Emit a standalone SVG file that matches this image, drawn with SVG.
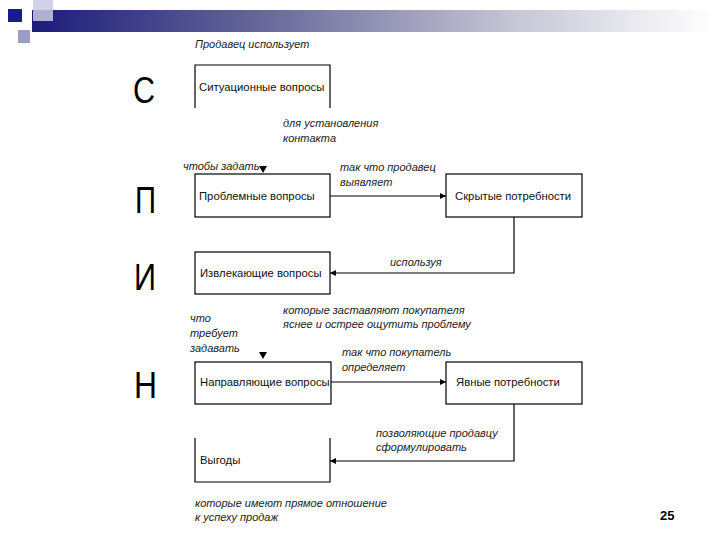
<svg xmlns="http://www.w3.org/2000/svg" width="720" height="540" viewBox="0 0 720 540">
<defs>
<linearGradient id="bar" x1="0" y1="0" x2="1" y2="0">
<stop offset="0" stop-color="#1c1c7a"/>
<stop offset="0.35" stop-color="#6a6a9c"/>
<stop offset="0.7" stop-color="#c4c4d4"/>
<stop offset="1" stop-color="#ffffff"/>
</linearGradient>
<marker id="ah" viewBox="0 0 10 10" refX="10" refY="5" markerWidth="9" markerHeight="6" markerUnits="userSpaceOnUse" orient="auto">
<path d="M0,0 L10,5 L0,10 z" fill="#000"/>
</marker>
</defs>
<style>
.box{fill:#fff;stroke:#000;stroke-width:1.2}
.edge{fill:none;stroke:#000;stroke-width:1.2}
.t{font-family:"Liberation Sans",Arial,sans-serif;font-size:11.3px;fill:#111}
.lab{font-family:"Liberation Sans",Arial,sans-serif;font-size:11px;font-style:italic;fill:#222}
.big{font-family:"Liberation Sans",Arial,sans-serif;font-size:37px;fill:#000}
</style>
<rect width="720" height="540" fill="#fff"/>
<g id="decor">
<rect x="32" y="10" width="680" height="22" fill="url(#bar)"/>
<rect x="33" y="0" width="20" height="21" fill="#c9c9e4" opacity="0.85"/>
<rect x="8" y="9" width="14" height="13" fill="#1a1a8e"/>
<rect x="18" y="30" width="12" height="13" fill="#9c9cc8"/>
</g>
<g id="letters">
<text class="big" x="133" y="103" textLength="22" lengthAdjust="spacingAndGlyphs">С</text>
<text class="big" x="135" y="213" textLength="21" lengthAdjust="spacingAndGlyphs">П</text>
<text class="big" x="134" y="290" textLength="22" lengthAdjust="spacingAndGlyphs">И</text>
<text class="big" x="134" y="398" textLength="23" lengthAdjust="spacingAndGlyphs">Н</text>
</g>
<g id="n-situational">
<path class="box" d="M195,108 V65 H330 V108"/>
<text class="t" x="199" y="91">Ситуационные вопросы</text>
</g>
<g id="n-problem">
<rect class="box" x="195" y="174" width="135" height="43"/>
<text class="t" x="199" y="200">Проблемные вопросы</text>
</g>
<g id="n-hidden">
<rect class="box" x="446" y="174" width="136" height="43"/>
<text class="t" x="455" y="200">Скрытые потребности</text>
</g>
<g id="n-extracting">
<rect class="box" x="195" y="252" width="135" height="42"/>
<text class="t" x="200" y="277">Извлекающие вопросы</text>
</g>
<g id="n-guiding">
<rect class="box" x="195" y="362" width="136" height="42"/>
<text class="t" x="200" y="386">Направляющие вопросы</text>
</g>
<g id="n-explicit">
<rect class="box" x="446" y="362" width="136" height="42"/>
<text class="t" x="456" y="386">Явные потребности</text>
</g>
<g id="n-benefits">
<path class="box" d="M195,438 V482 H330 V438"/>
<text class="t" x="200" y="464">Выгоды</text>
</g>
<g id="connectors">
<line class="edge" x1="330" y1="196" x2="446" y2="196" marker-end="url(#ah)"/>
<polyline class="edge" points="514,217 514,273 330,273" marker-end="url(#ah)"/>
<line class="edge" x1="331" y1="382" x2="446" y2="382" marker-end="url(#ah)"/>
<polyline class="edge" points="514,404 514,461 330,461" marker-end="url(#ah)"/>
<path d="M259,166 L267,166 L263,173 z" fill="#000"/>
<path d="M259,352 L267,352 L263,359 z" fill="#000"/>
</g>
<g id="labels">
<text class="lab" x="195" y="48">Продавец использует</text>
<text class="lab" x="283" y="127">для установления</text>
<text class="lab" x="283" y="142">контакта</text>
<text class="lab" x="183" y="170">чтобы задать</text>
<text class="lab" x="340" y="171">так что продавец</text>
<text class="lab" x="340" y="186">выявляет</text>
<text class="lab" x="390" y="266">используя</text>
<text class="lab" x="283" y="314">которые заставляют покупателя</text>
<text class="lab" x="283" y="328">яснее и острее ощутить проблему</text>
<text class="lab" x="190" y="322">что</text>
<text class="lab" x="190" y="337">требует</text>
<text class="lab" x="190" y="352">задавать</text>
<text class="lab" x="342" y="356">так что покупатель</text>
<text class="lab" x="342" y="371">определяет</text>
<text class="lab" x="376" y="437">позволяющие продавцу</text>
<text class="lab" x="376" y="451">сформулировать</text>
<text class="lab" x="195" y="507">которые имеют прямое отношение</text>
<text class="lab" x="195" y="521">к успеху продаж</text>
</g>
<text x="660" y="520" font-family="Liberation Sans,Arial,sans-serif" font-size="13" font-weight="bold" fill="#000">25</text>
</svg>
